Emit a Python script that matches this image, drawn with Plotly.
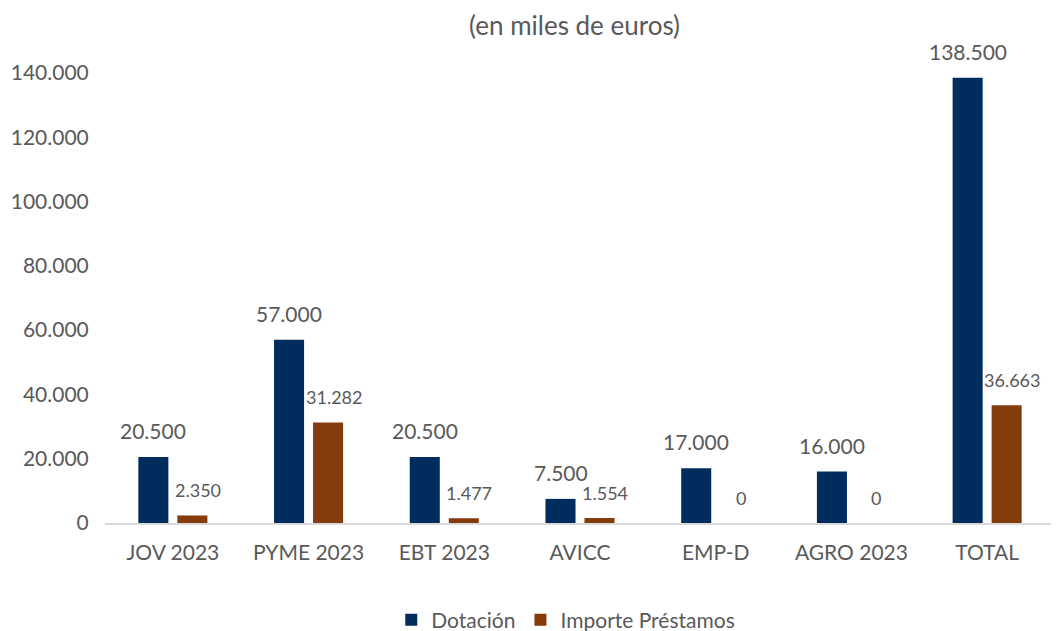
import plotly.graph_objects as go

categories = ["JOV 2023", "PYME 2023", "EBT 2023", "AVICC", "EMP-D", "AGRO 2023", "TOTAL"]
dotacion = [20500, 57000, 20500, 7500, 17000, 16000, 138500]
prestamos = [2350, 31282, 1477, 1554, 0, 0, 36663]
y_ticks = [0, 20000, 40000, 60000, 80000, 100000, 120000, 140000]
y_tick_labels = ["0", "20.000", "40.000", "60.000", "80.000", "100.000", "120.000", "140.000"]

NAVY = "#002D5E"
BROWN = "#843C0C"
GREY = "#595959"
FONT = "Lato"


def fmt(v):
    return f"{v:,}".replace(",", ".")


fig = go.Figure()
fig.add_trace(go.Bar(name="Dotación", x=categories, y=dotacion,
                     marker=dict(color=NAVY, line=dict(width=0))))
fig.add_trace(go.Bar(name="Importe Préstamos", x=categories, y=prestamos,
                     marker=dict(color=BROWN, line=dict(width=0))))

annotations = []
for c, v in zip(categories, dotacion):
    annotations.append(dict(x=c, y=v, xref="x", yref="y", text=fmt(v), showarrow=False,
                            xshift=-19.5, yshift=12, yanchor="bottom",
                            font=dict(family=FONT, size=21, color=GREY)))
for c, v in zip(categories, prestamos):
    annotations.append(dict(x=c, y=v, xref="x", yref="y", text=fmt(v), showarrow=False,
                            xshift=25, yshift=12, yanchor="bottom",
                            font=dict(family=FONT, size=18, color=GREY)))

fig.update_layout(
    width=1059, height=631,
    margin=dict(l=97, r=12, t=65, b=116),
    paper_bgcolor="white", plot_bgcolor="white",
    barmode="group", bargap=0.425, bargroupgap=0.23,
    title=dict(text="(en miles de euros)", x=0.535, xanchor="center", y=0.972, yanchor="middle",
               font=dict(family=FONT, size=26, color=GREY)),
    font=dict(family=FONT, color=GREY),
    showlegend=True,
    legend=dict(orientation="h", x=0.485, xanchor="center", xref="paper",
                y=0.03, yanchor="middle", yref="container",
                font=dict(family=FONT, size=21, color=GREY), itemwidth=30,
                traceorder="normal"),
    annotations=annotations,
)
fig.update_xaxes(showgrid=False, showline=True, linecolor="#D9D9D9", linewidth=1.5,
                 tickfont=dict(family=FONT, size=21, color=GREY), ticks="outside",
                 ticklen=10, tickcolor="white", automargin=False)
fig.update_yaxes(range=[0, 140000], tickvals=y_ticks, ticktext=y_tick_labels,
                 showgrid=False, zeroline=False, showline=False,
                 tickfont=dict(family=FONT, size=21, color=GREY), ticks="outside",
                 ticklen=11, tickcolor="white", automargin=False)

fig.write_html("out.html")
